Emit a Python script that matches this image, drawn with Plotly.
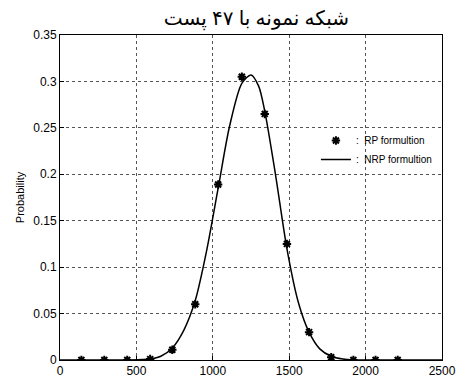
import plotly.graph_objects as go

# RP formulation (markers)
rp_x = [140, 290, 440, 590, 735, 885, 1035, 1190, 1340, 1485, 1630, 1775, 1920, 2065, 2210]
rp_y = [0.0, 0.0, 0.0, 0.001, 0.011, 0.060, 0.189, 0.305, 0.265, 0.125, 0.030, 0.003, 0.0, 0.0, 0.0]

# NRP formulation (line)
nrp_x = [0, 140, 290, 440, 590, 660, 735, 810, 885, 960, 1035, 1110, 1190, 1250, 1300, 1340, 1410, 1485, 1560, 1630, 1700, 1775, 1850, 1920, 2065, 2210, 2500]
nrp_y = [0.0, 0.0, 0.0, 0.0, 0.001, 0.004, 0.013, 0.032, 0.064, 0.118, 0.185, 0.252, 0.298, 0.307, 0.295, 0.268, 0.200, 0.120, 0.062, 0.030, 0.012, 0.004, 0.001, 0.0, 0.0, 0.0, 0.0]

title_text = "شبکه نمونه با ۴۷ پست"
x_ticks = [0, 500, 1000, 1500, 2000, 2500]
y_ticks = [0, 0.05, 0.1, 0.15, 0.2, 0.25, 0.3, 0.35]

fig = go.Figure()
fig.add_trace(go.Scatter(
    x=rp_x, y=rp_y, mode="markers", name=":  RP formultion",
    marker=dict(symbol="asterisk-open", size=7, color="black",
                line=dict(color="black", width=2)),
))
fig.add_trace(go.Scatter(
    x=nrp_x, y=nrp_y, mode="lines", name=":  NRP formultion",
    line=dict(color="black", width=1.5, shape="spline", smoothing=0.8),
))

axis_common = dict(
    showline=True, linecolor="black", linewidth=1, mirror=True,
    ticks="inside", ticklen=4, tickcolor="black",
    showgrid=True, gridcolor="#555", griddash="dot", gridwidth=1,
    zeroline=False, tickfont=dict(family="Liberation Sans, Arial", size=12, color="black"),
)

fig.update_layout(
    width=468, height=390,
    margin=dict(l=60, r=16, t=35, b=23),
    paper_bgcolor="white", plot_bgcolor="white",
    title=dict(text=title_text, x=0.548, xanchor="center", y=0.955, yanchor="middle",
               font=dict(family="Noto Sans, DejaVu Sans", size=20, color="black")),
    xaxis=dict(range=[0, 2500], tickvals=x_ticks, ticktext=[str(v) for v in x_ticks], **axis_common),
    yaxis=dict(range=[0, 0.35], tickvals=y_ticks, ticktext=["0", "0.05", "0.1", "0.15", "0.2", "0.25", "0.3", "0.35"],
               title=dict(text="Probability", font=dict(family="Liberation Sans, Arial", size=11, color="black"), standoff=6),
               **axis_common),
    legend=dict(x=0.67, y=0.72, xanchor="left", yanchor="top", bgcolor="rgba(0,0,0,0)",
                font=dict(family="Liberation Sans, Arial", size=10, color="black"),
                tracegroupgap=0, itemwidth=30),
    showlegend=True,
)

fig.write_html("out.html")
